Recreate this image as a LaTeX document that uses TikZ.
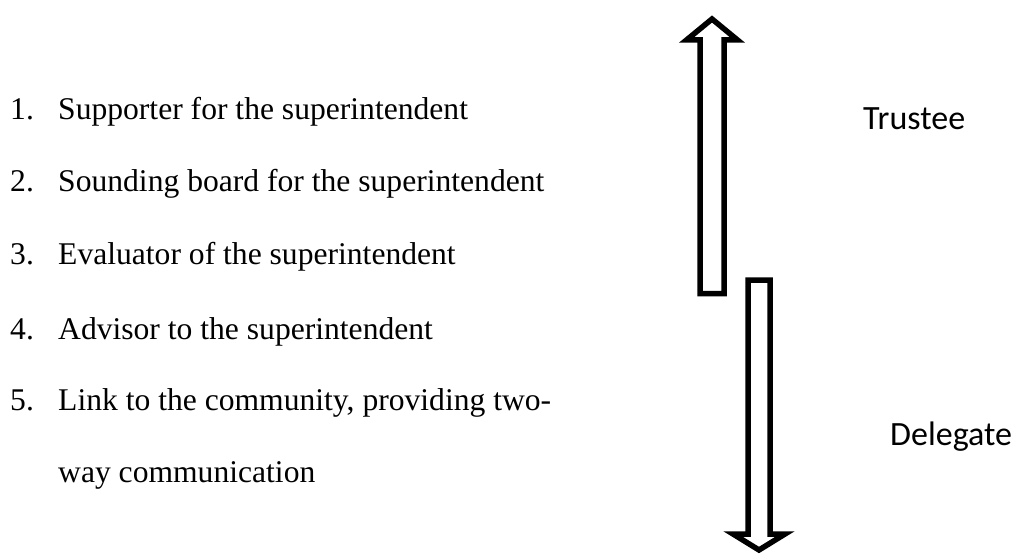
\documentclass[tikz,border=0pt]{standalone}
\usepackage{fontspec}
\setmainfont{Liberation Serif}
\newfontfamily\labelfont{Carlito}
\begin{document}
\begin{tikzpicture}[x=1pt,y=-1pt,
  item/.style={anchor=base west,inner sep=0pt,font=\fontsize{31.6}{38}\selectfont},
  side/.style={anchor=base west,inner sep=0pt,font=\labelfont\fontsize{34}{40}\selectfont},
  hollow/.style={draw=black,line width=5.5pt,fill=white,miter limit=10}]
\useasboundingbox (0,0) rectangle (1031,556);

% numbered list, double spaced
\node[item] (n1) at (10,120) {1.};
\node[item] (t1) at (58,120) {Supporter for the superintendent};
\node[item] (n2) at (10,192) {2.};
\node[item] (t2) at (58,192) {Sounding board for the superintendent};
\node[item] (n3) at (10,265) {3.};
\node[item] (t3) at (58,265) {Evaluator of the superintendent};
\node[item] (n4) at (10,339) {4.};
\node[item] (t4) at (58,339) {Advisor to the superintendent};
\node[item] (n5) at (10,410) {5.};
\node[item] (t5) at (58,410) {Link to the community, providing two-};
\node[item] (t6) at (58,482) {way communication};

% upward block arrow
\draw[hollow] (700,293.5) -- (700,40) -- (686.5,40) -- (712,19) -- (737.5,40)
  -- (724,40) -- (724,293.5) -- cycle;
% downward block arrow
\draw[hollow] (748,280) -- (770,280) -- (770,534) -- (785,534) -- (759,550)
  -- (733,534) -- (748,534) -- cycle;

\node[side] (trustee) at (863,130) {Trustee};
\node[side] (delegate) at (890,445) {Delegate};
\end{tikzpicture}
\end{document}
